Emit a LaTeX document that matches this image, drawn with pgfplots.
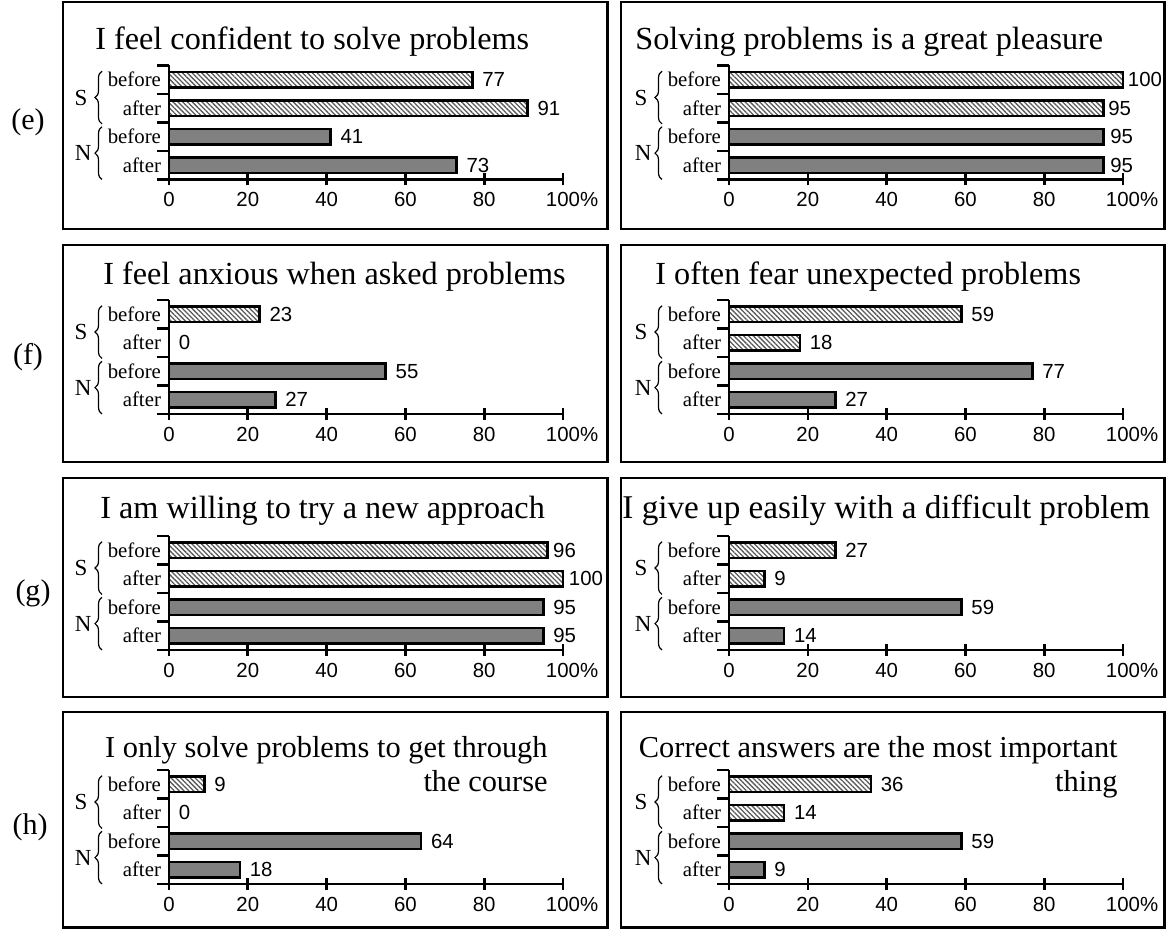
\documentclass[border=0pt]{standalone}
\usepackage{pgfplots}
\pgfplotsset{compat=1.18}
\usepackage{fontspec}
\setmainfont{Liberation Serif}
\newfontfamily\arial{Liberation Sans}
\usetikzlibrary{patterns.meta,decorations.pathreplacing}

\pgfplotsset{
  panel/.style={
    scale only axis, height=57pt,
    xmin=0, xmax=100, ymin=-0.5, ymax=3.5,
    axis x line*=bottom, axis y line*=left,
    axis line style={-, line width=1.4pt},
    every tick/.style={black, line width=1.3pt},
    tick align=center,
    major tick length=6pt,
    xtick={0,20,40,60,80,100},
    xticklabels={0,20,40,60,80,100\rlap{\%}},
    xticklabel style={font=\arial\fontsize{10.2}{12}\selectfont},
    ytick={-0.5,0.5,1.5,2.5,3.5}, yticklabels={,,,,},
    extra y ticks={0,1,2,3},
    extra y tick labels={after,before,after,before},
    extra y tick style={major tick length=0pt,
      yticklabel style={font=\fontsize{10.4}{12}\selectfont, xshift=-0.5pt}},
    clip=false,
    xbar, bar width=7.6pt,
    point meta=x,
    /pgf/number format/assume math mode=true,
    nodes near coords,
    every node near coord/.append style={font=\arial\fontsize{10.2}{12}\selectfont, anchor=west, xshift=1pt, black},
    anchor=south west,
  },
  Sbar/.style={bar shift=0pt, draw=black, line width=1.3pt,
    pattern={Lines[angle=-45,distance=1.7pt,line width=0.65pt]}, pattern color=black!65},
  Nbar/.style={bar shift=0pt, draw=black, line width=1.3pt, fill=gray},
}
\newcommand{\braces}{%
  \draw[decorate, decoration={brace, amplitude=3.5pt}, line width=0.6pt]
    ([xshift=-33.5pt]axis cs:0,1.45) -- ([xshift=-33.5pt]axis cs:0,3.3)
    node[midway, left=7pt, inner sep=0pt, font=\fontsize{11.5}{12}\selectfont] {S};
  \draw[decorate, decoration={brace, amplitude=3.5pt}, line width=0.6pt]
    ([xshift=-33.5pt]axis cs:0,-0.5) -- ([xshift=-33.5pt]axis cs:0,1.35)
    node[midway, left=5pt, inner sep=0pt, font=\fontsize{11.5}{12}\selectfont] {N};
}
\newcommand{\ttl}{\fontsize{16.1}{16}\selectfont}

\begin{document}
\begin{tikzpicture}
\useasboundingbox (0,0) rectangle (583.5pt,464.5pt);
% frames
\begin{scope}[line width=1.3pt]
\draw (31.5pt,350pt) rectangle (303.8pt,463.5pt);
\draw (310.5pt,350pt) rectangle (582.2pt,463.5pt);
\draw (31.5pt,233.5pt) rectangle (303.8pt,342pt);
\draw (310.5pt,233.5pt) rectangle (582.2pt,342pt);
\draw (31.5pt,116pt) rectangle (303.8pt,225.5pt);
\draw (310.5pt,116pt) rectangle (582.2pt,225.5pt);
\draw (31.5pt,0.7pt) rectangle (303.8pt,108.5pt);
\draw (310.5pt,0.7pt) rectangle (582.2pt,108.5pt);
\end{scope}

% panel letters
\node[font=\fontsize{15}{15}\selectfont] at (14pt,403.5pt) {(e)};
\node[font=\fontsize{15}{15}\selectfont] at (14pt,286pt) {(f)};
\node[font=\fontsize{15}{15}\selectfont] at (16.5pt,168pt) {(g)};
\node[font=\fontsize{15}{15}\selectfont] at (15pt,51pt) {(h)};

% titles
\node[anchor=base west, inner sep=0pt, font=\ttl] at (47.5pt,439.5pt) {I feel confident to solve problems};
\node[anchor=base west, inner sep=0pt, font=\ttl] at (317.5pt,439.5pt) {Solving problems is a great pleasure};
\node[anchor=base west, inner sep=0pt, font=\ttl] at (51.5pt,322pt) {I feel anxious when asked problems};
\node[anchor=base west, inner sep=0pt, font=\ttl] at (327.5pt,322pt) {I often fear unexpected problems};
\node[anchor=base west, inner sep=0pt, font=\ttl] at (50pt,205pt) {I am willing to try a new approach};
\node[anchor=base west, inner sep=0pt, font=\fontsize{16.6}{16}\selectfont] at (311pt,205pt) {I give up easily with a difficult problem};
\node[anchor=base east, inner sep=0pt, font=\fontsize{15.2}{15}\selectfont] at (274pt,85.5pt) {I only solve problems to get through};
\node[anchor=base east, inner sep=0pt, font=\fontsize{15.2}{15}\selectfont] at (274pt,68.5pt) {the course};
\node[anchor=base east, inner sep=0pt, font=\fontsize{15.2}{15}\selectfont] at (559pt,85.5pt) {Correct answers are the most important};
\node[anchor=base east, inner sep=0pt, font=\fontsize{15.2}{15}\selectfont] at (559pt,68.5pt) {thing};

% (e) left
\begin{axis}[panel, width=197pt, at={(84.5pt,374.75pt)}]
\addplot[Sbar] coordinates {(77,3) (91,2)};
\addplot[Nbar] coordinates {(41,1) (73,0)};
\braces
\end{axis}
% (e) right
\begin{axis}[panel, width=197pt, at={(364.5pt,374.75pt)}]
\addplot[Sbar, every node near coord/.append style={xshift=-2.5pt}] coordinates {(100,3) (95,2)};
\addplot[Nbar, every node near coord/.append style={xshift=-1.5pt}] coordinates {(95,1) (95,0)};
\braces
\end{axis}
% (f) left
\begin{axis}[panel, width=197pt, at={(84.5pt,257.5pt)}]
\addplot[Sbar] coordinates {(23,3) (0,2)};
\addplot[Nbar] coordinates {(55,1) (27,0)};
\braces
\end{axis}
% (f) right
\begin{axis}[panel, width=197pt, at={(364.5pt,257.5pt)},
  xticklabels={\raisebox{-3pt}{0},20,40,60,80,100\rlap{\%}}]
\addplot[Sbar] coordinates {(59,3) (18,2)};
\addplot[Nbar] coordinates {(77,1) (27,0)};
\braces
\end{axis}
% (g) left
\begin{axis}[panel, width=197pt, at={(84.5pt,139.5pt)}]
\addplot[Sbar, every node near coord/.append style={xshift=-2pt}] coordinates {(96,3) (100,2)};
\addplot[Nbar] coordinates {(95,1) (95,0)};
\braces
\end{axis}
% (g) right
\begin{axis}[panel, width=197pt, at={(364.5pt,139.5pt)}]
\addplot[Sbar] coordinates {(27,3) (9,2)};
\addplot[Nbar] coordinates {(59,1) (14,0)};
\braces
\end{axis}
% (h) left
\begin{axis}[panel, width=197pt, at={(84.5pt,22.5pt)}]
\addplot[Sbar] coordinates {(9,3) (0,2)};
\addplot[Nbar] coordinates {(64,1) (18,0)};
\braces
\end{axis}
% (h) right
\begin{axis}[panel, width=197pt, at={(364.5pt,22.5pt)}]
\addplot[Sbar] coordinates {(36,3) (14,2)};
\addplot[Nbar] coordinates {(59,1) (9,0)};
\braces
\end{axis}
\end{tikzpicture}
\end{document}
